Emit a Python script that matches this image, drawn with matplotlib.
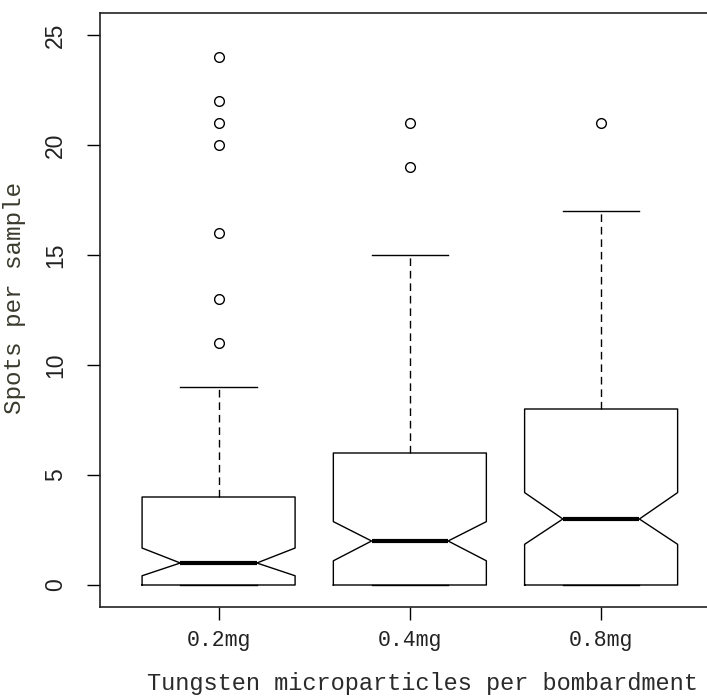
import numpy as np
import matplotlib
matplotlib.use("Agg")
import matplotlib.pyplot as plt

# --- datos (boxplot con muescas, estilo R) ---
grupos = ["0.2mg", "0.4mg", "0.8mg"]
q1 = [0, 0, 0]
mediana = [1, 2, 3]
q3 = [4, 6, 8]
bigote_inf = [0, 0, 0]
bigote_sup = [9, 15, 17]
muesca_inf = [0.42, 1.1, 1.85]
muesca_sup = [1.68, 2.88, 4.2]
atipicos = [
    [24, 22, 21, 20, 16, 13, 11],
    [21, 19],
    [21],
]

stats = []
for i, g in enumerate(grupos):
    stats.append(dict(label=g, q1=q1[i], med=mediana[i], q3=q3[i],
                      whislo=bigote_inf[i], whishi=bigote_sup[i],
                      cilo=muesca_inf[i], cihi=muesca_sup[i],
                      fliers=np.array(atipicos[i])))

fig = plt.figure(figsize=(7.07, 6.96), dpi=100)
ax = fig.add_axes([100 / 707, 89 / 696, 619.7 / 707, 594 / 696])

ax.bxp(stats, positions=[1, 2, 3], widths=0.8, shownotches=True,
       boxprops=dict(color="black", linewidth=1.0),
       whiskerprops=dict(color="black", linewidth=1.0, linestyle=(0, (5.5, 3.5))),
       capprops=dict(color="black", linewidth=1.0),
       medianprops=dict(color="black", linewidth=3.0, solid_capstyle="butt"),
       flierprops=dict(marker="o", markersize=7, markerfacecolor="none",
                       markeredgecolor="black", markeredgewidth=1.0))

ax.set_xlim(0.38, 3.62)
ax.set_ylim(-1, 26)

ax.set_xticks([1, 2, 3])
ax.set_xticklabels(grupos, family="Liberation Mono", fontsize=15.5, color="#222222")
ax.set_yticks([0, 5, 10, 15, 20, 25])
ax.set_yticklabels(["0", "5", "10", "15", "20", "25"], family="Liberation Sans",
                   fontsize=16.5, color="#222222")
for lab in ax.get_yticklabels():
    lab.set_rotation(90)
    lab.set_va("center")

ax.tick_params(axis="x", direction="out", length=9.7, width=1.0, pad=7)
ax.tick_params(axis="y", direction="out", length=9.7, width=1.0, pad=14)
for s in ax.spines.values():
    s.set_linewidth(1.2)
    s.set_color("#222222")

fig.text(422 / 707, 1 - 690 / 696, "Tungsten microparticles per bombardment",
         family="Liberation Mono", fontsize=17, color="#2b2b2b",
         ha="center", va="baseline")
fig.text(15 / 707, 1 - 298 / 696, "Spots per sample", rotation=90,
         family="Liberation Mono", fontsize=17.5, color="#3a3a2e",
         ha="center", va="center")

fig.savefig("out.png", dpi=100)
